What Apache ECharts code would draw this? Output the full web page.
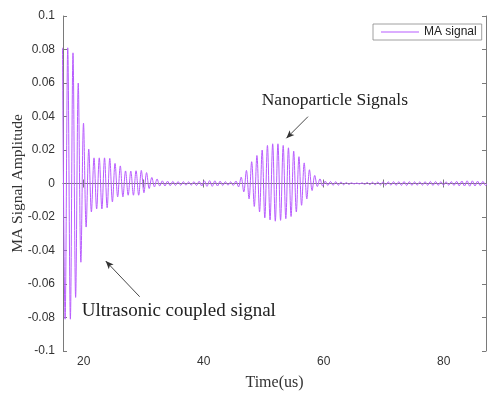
<!DOCTYPE html>
<html><head><meta charset="utf-8">
<script src="https://cdn.jsdelivr.net/npm/echarts@6/dist/echarts.min.js"></script>
<style>html,body{margin:0;padding:0;background:#fff;} #c{width:487px;height:393px;}</style>
</head><body><div id="c"></div>
<script>
// Signed peak values (one per half-cycle)
const coupledPeaks = [0.081,-0.081,0.081,-0.081,0.078,-0.068,0.060,-0.047,0.036,-0.026,0.0205,-0.017,
  0.0153,-0.0152,0.0153,-0.0152,0.0153,-0.0145,0.015,-0.011,0.012,-0.008,0.0105,-0.008,0.0075,-0.007,
  0.0074,-0.007,0.0076,-0.007,0.0078,-0.0055,0.0065,-0.003,0.0036,-0.002,0.0027,-0.0015,0.0016];
const rippleA = [-0.0015,0.0014,-0.0013,0.0013,-0.0012,0.0012,-0.0011,0.0011,-0.001,0.001,-0.001,0.0011,
  -0.0012,0.0013,-0.0015,0.0016,-0.0017,0.0017,-0.0017,0.0016,-0.0015,0.0014,-0.0012,0.0011,-0.001,0.001,
  -0.0012,0.0015,-0.002];
const nanoPeaks = [0.0038,-0.005,0.0078,-0.0092,0.013,-0.0137,0.0167,-0.017,0.020,-0.0205,0.0227,-0.0217,
  0.0237,-0.0225,0.0237,-0.022,0.0227,-0.021,0.0213,-0.0197,0.0193,-0.017,0.016,-0.013,0.0123,-0.0092,
  0.0082,-0.0042,0.0048,-0.0018,0.0028,-0.0015,0.0014];
const rippleB = [-0.0012,0.0012,-0.0011,0.0011,-0.001,0.0009,-0.0008,0.0006,-0.0005,0.0004,-0.0003,0.0003,
  -0.0003,0.0004,-0.0005,0.0006,-0.0007,0.0008,-0.0008,0.0009,-0.0009,0.001,-0.001,0.001,-0.001,0.0011,
  -0.0011,0.0011,-0.0011,0.0012,-0.0012,0.0011,-0.0011,0.001,-0.001,0.001,-0.001,0.0011,-0.0011,0.0012,
  -0.0012,0.0012,-0.0011,0.0011,-0.001,0.001,-0.001,0.0011,-0.0012,0.0013,-0.0014,0.0015,-0.0015,0.0016,
  -0.0016,0.0016,-0.0015,0.0014,-0.0013,0.0013,-0.0012,0.0012];
const firstPeakTime = 16.465;   // us, time of the first sampled peak
const halfPeriod = 0.4379;      // us between successive peaks (sampling grid)
const xTicks = [20,30,40,50,60,70,80];
const xLabels = [20,40,60,80];
const seriesName = 'MA signal';
const annotations = [
  {text:'Nanoparticle Signals', size:17.5, at:[49.67,0.0499], arrowFrom:[57.38,0.0399], arrowTo:[53.78,0.027]},
  {text:'Ultrasonic coupled signal', size:19, at:[19.67,-0.0761], arrowFrom:[29.33,-0.0676], arrowTo:[23.67,-0.0463]}
];

const values = coupledPeaks.concat(rippleA, nanoPeaks, rippleB);
const data = values.map((v,i)=>[firstPeakTime + i*halfPeriod, v]);

const axisColor = '#7a7a7a';
const lineColor = '#b85cff';
const labelFont = {fontFamily:'Liberation Sans, Arial, sans-serif', fontSize:12, color:'#333'};
const serif = 'Liberation Serif, Times New Roman, serif';
const XMIN = 16.55, XMAX = 87.05;

const chart = echarts.init(document.getElementById('c'), null, {renderer:'canvas'});
chart.setOption({
  animation:false,
  backgroundColor:'#fff',
  grid:{left:63, right:1, top:16, bottom:42, containLabel:false, outerBoundsMode:'none'},
  legend:{
    data:[{name:seriesName, icon:'rect'}], left:373, top:24, orient:'horizontal',
    borderColor:'#888', borderWidth:0.8, borderRadius:0, padding:[2,5,2,8],
    itemWidth:38, itemHeight:1, textStyle:{fontFamily:'Liberation Sans, Arial, sans-serif', fontSize:12, color:'#222'}
  },
  xAxis:[{
    type:'value', min:XMIN, max:XMAX, position:'bottom',
    name:'Time(us)', nameLocation:'middle', nameGap:24, nameMoveOverlap:false,
    nameTextStyle:{fontFamily:serif, fontSize:16, color:'#333'},
    axisLine:{show:true, lineStyle:{color:axisColor, width:1}},
    axisTick:{show:true, inside:true, length:4, customValues:xTicks, lineStyle:{color:axisColor}},
    axisLabel:{show:true, customValues:xLabels, margin:5, ...labelFont},
    splitLine:{show:false}
  },{
    type:'value', min:XMIN, max:XMAX, position:'top',
    axisLine:{show:true, lineStyle:{color:axisColor, width:1}},
    axisTick:{show:true, inside:true, length:4, customValues:xTicks, lineStyle:{color:axisColor}},
    axisLabel:{show:false}, splitLine:{show:false}
  }],
  yAxis:[{
    type:'value', min:-0.1, max:0.1, interval:0.02, position:'left',
    name:'MA Signal Amplitude', nameLocation:'middle', nameGap:37, nameRotate:90, nameMoveOverlap:false,
    nameTextStyle:{fontFamily:serif, fontSize:15.5, color:'#333'},
    axisLine:{show:true, lineStyle:{color:axisColor, width:1}},
    axisTick:{show:true, inside:true, length:4, lineStyle:{color:axisColor}},
    axisLabel:{margin:8, formatter:v=>String(+v.toFixed(2)), ...labelFont},
    splitLine:{show:false}
  },{
    type:'value', min:-0.1, max:0.1, interval:0.02, position:'right',
    axisLine:{show:true, lineStyle:{color:axisColor, width:1}},
    axisTick:{show:true, inside:true, length:4, lineStyle:{color:axisColor}},
    axisLabel:{show:false}, splitLine:{show:false}
  }],
  series:[{
    name:seriesName, type:'line', xAxisIndex:0, yAxisIndex:0,
    data:data, showSymbol:false, symbol:'none', smooth:0.35,
    lineStyle:{color:lineColor, width:1}, itemStyle:{color:lineColor},
    clip:true,
    markLine:{
      silent:true, symbol:['arrow','none'], symbolSize:[5,8],
      lineStyle:{color:'#333', width:0.9, type:'solid'}, label:{show:false},
      data: annotations.map(a=>[{coord:a.arrowTo},{coord:a.arrowFrom}])
    }
  }]
});

const g = annotations.map(a=>{
  const p = chart.convertToPixel({xAxisIndex:0, yAxisIndex:0}, a.at);
  return {type:'text', x:p[0], y:p[1], style:{text:a.text, font:a.size+'px '+serif, fill:'#222', textVerticalAlign:'middle', textAlign:'left'}};
});
chart.setOption({graphic:g});
</script>
</body></html>
